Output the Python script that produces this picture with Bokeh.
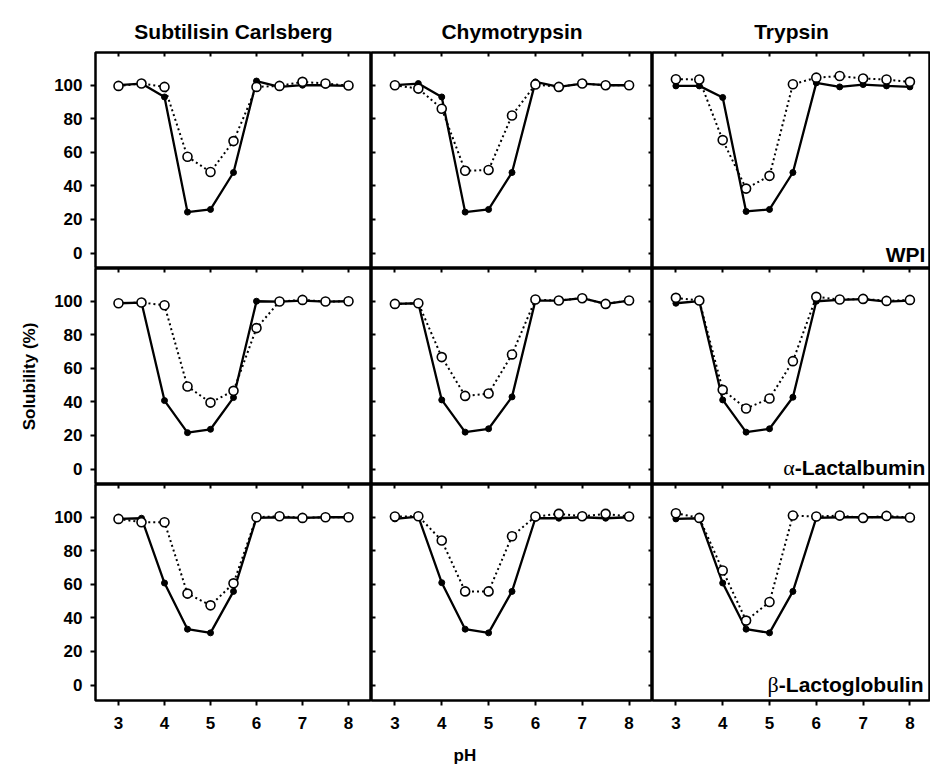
from bokeh.plotting import figure
from bokeh.layouts import gridplot
from bokeh.models import LinearAxis, FixedTicker, Label, Range1d, Title
from bokeh.embed import file_html
from bokeh.resources import INLINE

# ---------------- data ----------------
ph = [3, 3.5, 4, 4.5, 5, 5.5, 6, 6.5, 7, 7.5, 8]
x_ticks = [3, 4, 5, 6, 7, 8]
y_ticks = [0, 20, 40, 60, 80, 100]

enzymes = ["Subtilisin Carlsberg", "Chymotrypsin", "Trypsin"]
proteins = ["WPI", "α-Lactalbumin", "β-Lactoglobulin"]

# filled circles / solid line
wpi_sc_filled = [100, 101, 93, 24.4, 26, 48, 102.5, 99, 100, 100, 99.6]
wpi_ch_filled = [100, 101, 93, 24.4, 26, 48, 102, 99, 101, 100, 100]
wpi_tr_filled = [99.6, 99.6, 92.7, 24.8, 26, 48, 101.4, 99, 100.4, 99.6, 99]
alac_sc_filled = [98.8, 99.2, 40.8, 21.7, 23.7, 42.6, 100, 99.8, 100.4, 99.8, 100]
alac_ch_filled = [98.4, 98.8, 41.2, 22, 24, 43, 100.4, 100.4, 101.8, 98.4, 100.4]
alac_tr_filled = [98.8, 100, 41.2, 22, 24, 42.8, 100, 100.8, 101.2, 99.8, 100.4]
blg_sc_filled = [99, 99.4, 60.8, 33.3, 31.1, 55.8, 99.6, 100, 99.6, 100, 100]
blg_ch_filled = [99, 100.4, 61, 33.3, 31.1, 55.8, 99.4, 99.4, 100, 99.4, 100]
blg_tr_filled = [99, 99.4, 60.8, 33.3, 31.1, 55.8, 99.6, 100, 100, 100, 99.8]

# open circles / dotted line
wpi_sc_open = [99.6, 101, 99, 57.4, 48.3, 66.7, 99, 99.6, 102, 101, 99.8]
wpi_ch_open = [100, 98, 86, 49, 49.5, 82, 100.4, 99, 101, 100, 100]
wpi_tr_open = [103.6, 103.4, 67.3, 38.4, 46, 100.6, 104.5, 105.5, 104, 103.4, 102]
alac_sc_open = [98.8, 99.2, 97.6, 49.2, 39.6, 46.6, 84, 99.8, 100.8, 99.8, 100]
alac_ch_open = [98.4, 98.8, 66.7, 43.6, 45, 68.3, 101, 100.4, 101.8, 98.4, 100.4]
alac_tr_open = [102, 100.4, 47.2, 36.1, 42, 64.3, 102.6, 101, 101.4, 100.2, 100.8]
blg_sc_open = [99, 97, 97, 54.5, 47.5, 60.6, 100, 100.6, 99.6, 100, 100]
blg_ch_open = [100.4, 100.6, 86.1, 55.8, 55.8, 88.7, 100.4, 102, 100.6, 102, 100.4]
blg_tr_open = [102.4, 99.6, 68.3, 38.4, 49.5, 101, 100.4, 101, 99.6, 100.8, 99.8]

filled = [[wpi_sc_filled, wpi_ch_filled, wpi_tr_filled],
          [alac_sc_filled, alac_ch_filled, alac_tr_filled],
          [blg_sc_filled, blg_ch_filled, blg_tr_filled]]
opened = [[wpi_sc_open, wpi_ch_open, wpi_tr_open],
          [alac_sc_open, alac_ch_open, alac_tr_open],
          [blg_sc_open, blg_ch_open, blg_tr_open]]

# ---------------- layout ----------------
FONT = "Liberation Sans"
col_frame_w = [276, 281, 278]
col_x_end = [8.5, 8.5, 8.44]
row_frame_h = [216, 216, 217]
Y0, Y1 = -9.2, 119.5
LEFT_B, TOP_B, BOTTOM_B = 95, 52, 75


def inner_axis(ticks, fixed):
    return LinearAxis(ticker=FixedTicker(ticks=ticks), fixed_location=fixed,
                      major_tick_in=4, major_tick_out=0,
                      minor_tick_in=0, minor_tick_out=0, axis_line_color=None,
                      major_tick_line_width=2,
                      major_label_overrides={t: "" for t in ticks})


rows = []
for r in range(3):
    row = []
    for c in range(3):
        w = col_frame_w[c] + (LEFT_B if c == 0 else 0)
        h = row_frame_h[r] + (TOP_B if r == 0 else 0) + (BOTTOM_B if r == 2 else 0)
        p = figure(width=w, height=h, x_range=Range1d(2.5, col_x_end[c]),
                   y_range=Range1d(Y0, Y1), x_axis_location=None,
                   y_axis_location=None, output_backend="svg",
                   toolbar_location=None, min_border=0)
        p.title.visible = False
        p.xgrid.grid_line_color = None
        p.ygrid.grid_line_color = None
        p.min_border_left = LEFT_B if c == 0 else 0
        p.min_border_right = 0
        p.min_border_top = TOP_B if r == 0 else 0
        p.min_border_bottom = BOTTOM_B if r == 2 else 0
        p.outline_line_color = "black"
        p.outline_line_width = 2.5
        p.outline_line_alpha = 1.0
        p.background_fill_color = "white"
        p.border_fill_color = "white"

        # top axis: inward ticks, no labels
        p.add_layout(inner_axis(x_ticks, Y1), "above")

        if c == 0:
            left = LinearAxis(ticker=FixedTicker(ticks=y_ticks), major_tick_out=5,
                              major_tick_in=0, minor_tick_in=0, minor_tick_out=0,
                              axis_line_color=None, major_tick_line_width=2,
                              major_label_standoff=8,
                              major_label_text_font=FONT,
                              major_label_text_font_style="bold",
                              major_label_text_font_size="17px",
                              major_label_text_color="black")
            if r == 1:
                left.axis_label = "Solubility (%)"
                left.axis_label_text_font = FONT
                left.axis_label_text_font_style = "bold"
                left.axis_label_text_font_size = "17px"
                left.axis_label_text_color = "black"
                left.axis_label_standoff = 12
            p.add_layout(left, "left")
        if c == 1:
            p.add_layout(inner_axis(y_ticks, 2.5), "left")
            p.add_layout(inner_axis(y_ticks, col_x_end[c]), "right")
        if r == 2:
            bottom = LinearAxis(ticker=FixedTicker(ticks=x_ticks), major_tick_out=5,
                                major_tick_in=0, minor_tick_in=0, minor_tick_out=0,
                                axis_line_color=None, major_tick_line_width=2,
                                major_label_standoff=11,
                                major_label_text_font=FONT,
                                major_label_text_font_style="bold",
                                major_label_text_font_size="17px",
                                major_label_text_color="black")
            p.add_layout(bottom, "below")
            if c == 1:
                p.add_layout(Title(text="pH", align="left", offset=82, standoff=24,
                                   text_font=FONT, text_font_style="bold",
                                   text_font_size="17px", text_color="black"),
                             "below")

        # data
        p.line(ph, opened[r][c], line_color="black", line_width=2, line_dash="2 3")
        p.line(ph, filled[r][c], line_color="black", line_width=2.3)
        p.scatter(ph, filled[r][c], size=6, fill_color="black", line_color="black")
        p.scatter(ph, opened[r][c], size=9, fill_color="white", line_color="black",
                  line_width=1.6)

        # column titles
        if r == 0:
            p.add_layout(Title(text=enzymes[c], align="center", standoff=19,
                               text_font=FONT, text_font_style="bold",
                               text_font_size="21px", text_color="black"),
                         "above")
        # protein labels
        if c == 2:
            name = proteins[r]
            mid_y = [-0.86, 0.93, 0.34][r]
            right_x = [8.33, 8.33, 8.29][r]
            if r == 0:
                p.add_layout(Label(x=right_x, y=mid_y, text=name, text_font=FONT,
                                   text_font_style="bold", text_font_size="21px",
                                   text_align="right", text_baseline="middle",
                                   text_color="black"))
            else:
                greek, rest = name[0], name[1:]
                rest_w = {1: 130.7, 2: 144.7}[r]
                p.add_layout(Label(x=right_x, y=mid_y, text=rest, text_font=FONT,
                                   text_font_style="bold", text_font_size="21px",
                                   text_align="right", text_baseline="middle",
                                   text_color="black"))
                p.add_layout(Label(x=right_x, y=mid_y, x_offset=-rest_w, text=greek,
                                   text_font="Liberation Serif",
                                   text_font_size="22px", text_align="right",
                                   text_baseline="middle", text_color="black"))
        row.append(p)
    rows.append(row)

grid = gridplot(rows, toolbar_location=None)

open("out.html", "w").write(file_html(grid, INLINE))
